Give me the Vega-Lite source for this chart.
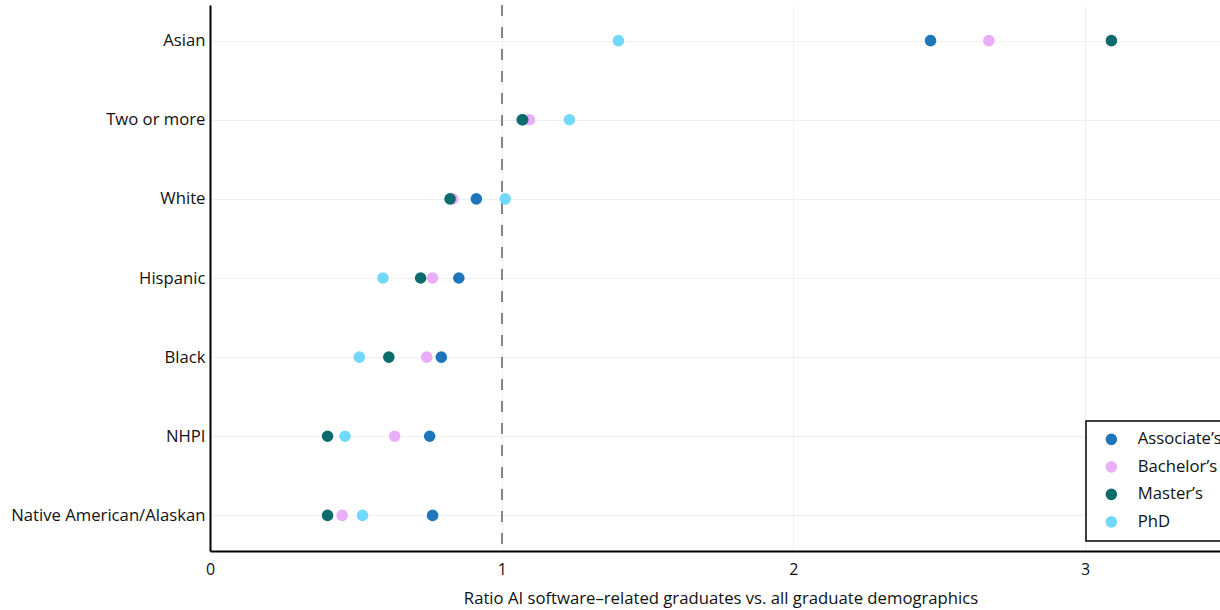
{
  "$schema": "https://vega.github.io/schema/vega-lite/v6.json",
  "autosize": {"type": "none"},
  "padding": {"left": 210, "top": 5, "right": 0, "bottom": 59},
  "width": 1021,
  "height": 546,
  "background": "white",
  "config": {
    "view": {"stroke": null},
    "font": "Open Sans",
    "axis": {"labelFont": "Open Sans", "titleFont": "Open Sans", "labelColor": "#111", "titleColor": "#111"},
    "legend": {"strokeColor": "#000", "strokeWidth": 1.5, "fillColor": "white", "labelFont": "Open Sans", "labelColor": "#111"}
  },
  "data": {
    "values": [
      {"group": "Asian", "degree": "Associate’s", "ratio": 2.47},
      {"group": "Asian", "degree": "Bachelor’s", "ratio": 2.67},
      {"group": "Asian", "degree": "Master’s", "ratio": 3.09},
      {"group": "Asian", "degree": "PhD", "ratio": 1.40},
      {"group": "Two or more", "degree": "Associate’s", "ratio": 1.07},
      {"group": "Two or more", "degree": "Bachelor’s", "ratio": 1.095},
      {"group": "Two or more", "degree": "Master’s", "ratio": 1.072},
      {"group": "Two or more", "degree": "PhD", "ratio": 1.232},
      {"group": "White", "degree": "Associate’s", "ratio": 0.913},
      {"group": "White", "degree": "Bachelor’s", "ratio": 0.832},
      {"group": "White", "degree": "Master’s", "ratio": 0.823},
      {"group": "White", "degree": "PhD", "ratio": 1.012},
      {"group": "Hispanic", "degree": "Associate’s", "ratio": 0.853},
      {"group": "Hispanic", "degree": "Bachelor’s", "ratio": 0.763},
      {"group": "Hispanic", "degree": "Master’s", "ratio": 0.722},
      {"group": "Hispanic", "degree": "PhD", "ratio": 0.593},
      {"group": "Black", "degree": "Associate’s", "ratio": 0.793},
      {"group": "Black", "degree": "Bachelor’s", "ratio": 0.743},
      {"group": "Black", "degree": "Master’s", "ratio": 0.613},
      {"group": "Black", "degree": "PhD", "ratio": 0.512},
      {"group": "NHPI", "degree": "Associate’s", "ratio": 0.753},
      {"group": "NHPI", "degree": "Bachelor’s", "ratio": 0.633},
      {"group": "NHPI", "degree": "Master’s", "ratio": 0.403},
      {"group": "NHPI", "degree": "PhD", "ratio": 0.463},
      {"group": "Native American/Alaskan", "degree": "Associate’s", "ratio": 0.763},
      {"group": "Native American/Alaskan", "degree": "Bachelor’s", "ratio": 0.453},
      {"group": "Native American/Alaskan", "degree": "Master’s", "ratio": 0.403},
      {"group": "Native American/Alaskan", "degree": "PhD", "ratio": 0.523}
    ]
  },
  "layer": [
    {
      "mark": {"type": "rule", "color": "#858585", "strokeWidth": 1.2, "strokeDash": [11, 11]},
      "encoding": {"x": {"datum": 1, "type": "quantitative"}}
    },
    {
      "mark": {"type": "circle", "size": 135, "opacity": 1},
      "encoding": {
        "x": {
          "field": "ratio", "type": "quantitative",
          "scale": {"domain": [0, 3.5], "nice": false},
          "axis": {
            "title": "Ratio AI software–related graduates vs. all graduate demographics",
            "titleFontSize": 16.7, "titleFontWeight": "normal", "titlePadding": 13,
            "values": [0, 1, 2, 3], "format": "d",
            "labelFontSize": 16, "labelPadding": 10, "labelFlush": false,
            "ticks": false, "domainColor": "#000", "domainWidth": 2,
            "grid": true, "gridColor": "#f0f0f0", "gridWidth": 1
          }
        },
        "y": {
          "field": "group", "type": "nominal",
          "sort": ["Asian", "Two or more", "White", "Hispanic", "Black", "NHPI", "Native American/Alaskan"],
          "scale": {"type": "point", "padding": 0.45},
          "axis": {
            "title": null, "labelFontSize": 16.7, "labelPadding": 5, "labelLimit": 400,
            "ticks": false, "domainColor": "#000", "domainWidth": 2,
            "grid": true, "gridColor": "#f0f0f0", "gridWidth": 1
          }
        },
        "color": {
          "field": "degree", "type": "nominal",
          "scale": {
            "domain": ["Associate’s", "Bachelor’s", "Master’s", "PhD"],
            "range": ["#1d76bb", "#e9adf9", "#0e6b6b", "#72d8fe"]
          },
          "legend": {
            "title": null, "orient": "none", "legendX": 876, "legendY": 416,
            "symbolType": "circle", "symbolSize": 135, "symbolOpacity": 1,
            "symbolOffset": 7,
            "labelFontSize": 16.7, "labelOffset": 18, "rowPadding": 9.5,
            "padding": 10, "labelLimit": 200
          }
        }
      }
    }
  ]
}
